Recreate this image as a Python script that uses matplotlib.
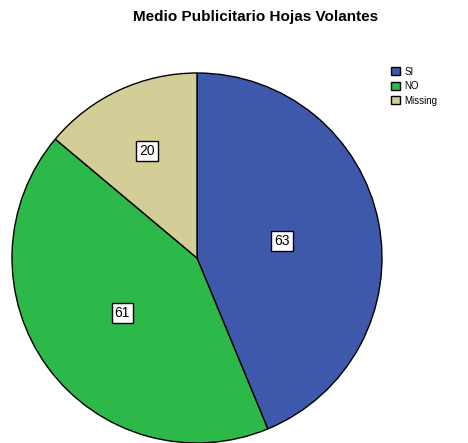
import matplotlib
matplotlib.use("Agg")
import matplotlib.pyplot as plt
import numpy as np

title = "Medio Publicitario Hojas Volantes"
categories = ["SI", "NO", "Missing"]
values = [63, 61, 20]
colors = ["#3e58ac", "#2db84a", "#d3ce97"]
label_dist = [0.47, 0.50, 0.64]

plt.rcParams['font.family'] = ['Liberation Sans', 'DejaVu Sans']

W, H = 468, 443
fig = plt.figure(figsize=(W / 100, H / 100), dpi=100)
cx, cy, r = 197, 258, 185
ax = fig.add_axes([(cx - r) / W, (H - cy - r) / H, 2 * r / W, 2 * r / H])

wedges, _ = ax.pie(values, colors=colors, startangle=90, counterclock=False,
                   radius=1.0, wedgeprops=dict(edgecolor="black", linewidth=1.0))
for w, v, d in zip(wedges, values, label_dist):
    ang = np.deg2rad((w.theta1 + w.theta2) / 2)
    ax.text(d * np.cos(ang), d * np.sin(ang), str(v), ha="center", va="center",
            fontsize=10,
            bbox=dict(boxstyle="square,pad=0.22", facecolor="white",
                      edgecolor="black", linewidth=1.0))
ax.set_xlim(-1, 1)
ax.set_ylim(-1, 1)
ax.set_aspect("equal")
ax.axis("off")

fig.text(256 / W, 1 - 17 / H, title, ha="center", va="center",
         fontsize=11, fontweight="bold")

leg = fig.legend(wedges, categories, loc="upper left",
                 bbox_to_anchor=(384 / W, 1 - 60 / H), frameon=False,
                 fontsize=7, handlelength=0.9, handleheight=0.9,
                 handletextpad=0.5, labelspacing=0.45, borderpad=0.2)

fig.savefig("out.png", dpi=100)
